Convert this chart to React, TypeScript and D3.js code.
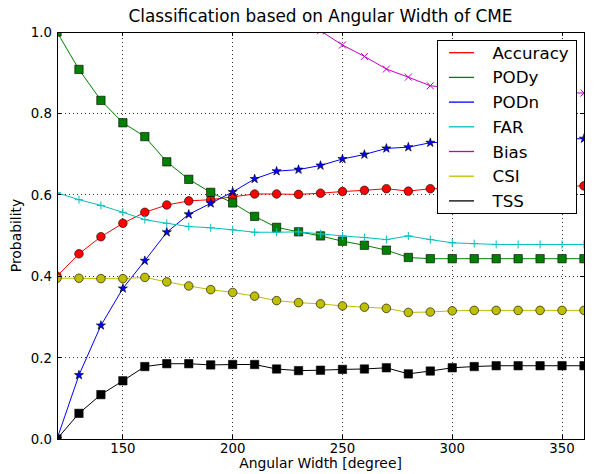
import React from "react";
import * as d3 from "d3";

// angular width thresholds [degree]
const widths = [120, 130, 140, 150, 160, 170, 180, 190, 200, 210, 220, 230, 240, 250, 260, 270, 280, 290, 300, 310, 320, 330, 340, 350, 360];

const accuracy = [0.4, 0.455, 0.497, 0.53, 0.557, 0.575, 0.585, 0.588, 0.595, 0.602, 0.602, 0.601, 0.604, 0.608, 0.611, 0.615, 0.609, 0.615, 0.615, 0.617, 0.618, 0.619, 0.62, 0.621, 0.622];
const pody = [1.0, 0.908, 0.832, 0.777, 0.743, 0.681, 0.638, 0.606, 0.58, 0.547, 0.52, 0.509, 0.499, 0.486, 0.476, 0.464, 0.446, 0.443, 0.443, 0.443, 0.443, 0.443, 0.443, 0.443, 0.443];
const podn = [0.0, 0.157, 0.279, 0.37, 0.438, 0.508, 0.552, 0.579, 0.607, 0.639, 0.658, 0.662, 0.672, 0.688, 0.699, 0.714, 0.717, 0.728, 0.73, 0.732, 0.734, 0.735, 0.736, 0.737, 0.738];
const far = [0.605, 0.588, 0.574, 0.557, 0.539, 0.53, 0.522, 0.519, 0.514, 0.508, 0.508, 0.509, 0.504, 0.499, 0.495, 0.49, 0.499, 0.49, 0.482, 0.48, 0.478, 0.478, 0.478, 0.478, 0.478];
const bias = [2.53, 2.0, 1.7, 1.5, 1.38, 1.3, 1.23, 1.18, 1.14, 1.1, 1.07, 1.04, 1.003, 0.968, 0.94, 0.909, 0.889, 0.868, 0.862, 0.858, 0.855, 0.853, 0.852, 0.851, 0.85];
const csi = [0.395, 0.395, 0.394, 0.394, 0.397, 0.386, 0.376, 0.367, 0.36, 0.351, 0.34, 0.335, 0.332, 0.327, 0.324, 0.321, 0.311, 0.312, 0.315, 0.316, 0.316, 0.316, 0.316, 0.316, 0.316];
const tss = [0.0, 0.063, 0.109, 0.143, 0.178, 0.185, 0.185, 0.182, 0.183, 0.183, 0.172, 0.168, 0.169, 0.171, 0.172, 0.175, 0.16, 0.167, 0.175, 0.178, 0.18, 0.18, 0.18, 0.18, 0.18];

const xTicks = [150, 200, 250, 300, 350];
const yTicks = [0, 0.2, 0.4, 0.6, 0.8, 1.0];

const series = [
  { name: "Accuracy", values: accuracy, color: "#ff0000", marker: "o" },
  { name: "PODy", values: pody, color: "#008000", marker: "s" },
  { name: "PODn", values: podn, color: "#0000ff", marker: "*" },
  { name: "FAR", values: far, color: "#00bfbf", marker: "+" },
  { name: "Bias", values: bias, color: "#bf00bf", marker: "x" },
  { name: "CSI", values: csi, color: "#bfbf00", marker: "o" },
  { name: "TSS", values: tss, color: "#000000", marker: "s" },
];

const W = 595;
const H = 474;
const margin = { top: 32, right: 11, bottom: 35, left: 57 };
const FONT = "DejaVu Sans, sans-serif";

const Marker = ({ type, x, y, color }) => {
  if (type === "+") {
    return (
      <g stroke={color} strokeWidth={1}>
        <line x1={x - 4} x2={x + 4} y1={y} y2={y} />
        <line x1={x} x2={x} y1={y - 4} y2={y + 4} />
      </g>
    );
  }
  if (type === "x") {
    return (
      <g stroke={color} strokeWidth={1}>
        <line x1={x - 3.5} x2={x + 3.5} y1={y - 3.5} y2={y + 3.5} />
        <line x1={x - 3.5} x2={x + 3.5} y1={y + 3.5} y2={y - 3.5} />
      </g>
    );
  }
  const sym = type === "o" ? d3.symbolCircle : type === "s" ? d3.symbolSquare : d3.symbolStar;
  const size = type === "o" ? 58 : type === "s" ? 70 : 26;
  return (
    <path
      d={d3.symbol().type(sym).size(size)()}
      transform={`translate(${x},${y})`}
      fill={color}
      stroke="#000"
      strokeWidth={0.6}
    />
  );
};

const App = () => {
  const x = d3.scaleLinear().domain([120, 360]).range([margin.left, W - margin.right]);
  const y = d3.scaleLinear().domain([0, 1]).range([H - margin.bottom, margin.top]);
  const [x0, x1] = x.range();
  const [y0, y1] = y.range();

  const line = d3
    .line<number>()
    .x((_, i) => x(widths[i]))
    .y((d) => y(d));

  const legendX = 437;
  const legendY = 40;

  return (
    <div style={{ position: "absolute", left: 0, top: 0 }}>
      <svg width={W} height={H} style={{ display: "block", background: "#fff" }} fontFamily={FONT}>
        <defs>
          <clipPath id="plot">
            <rect x={x0} y={y1} width={x1 - x0} height={y0 - y1} />
          </clipPath>
        </defs>

        {/* grid */}
        <g stroke="#000" strokeWidth={0.8} strokeDasharray="1,3" shapeRendering="crispEdges">
          {xTicks.map((t) => (
            <line key={"gx" + t} x1={x(t)} x2={x(t)} y1={y0} y2={y1} />
          ))}
          {yTicks.filter((t) => t > 0 && t < 1).map((t) => (
            <line key={"gy" + t} x1={x0} x2={x1} y1={y(t)} y2={y(t)} />
          ))}
        </g>

        {/* series */}
        <g clipPath="url(#plot)">
          {series.map((s) => (
            <g key={s.name}>
              <path d={line(s.values)} fill="none" stroke={s.color} strokeWidth={1} />
              {s.values.map((v, i) => (
                <Marker key={i} type={s.marker} x={x(widths[i])} y={y(v)} color={s.color} />
              ))}
            </g>
          ))}
        </g>

        {/* frame + ticks */}
        <g stroke="#000" strokeWidth={1} shapeRendering="crispEdges">
          <rect x={x0} y={y1} width={x1 - x0} height={y0 - y1} fill="none" />
          {xTicks.map((t) => (
            <g key={"tx" + t}>
              <line x1={x(t)} x2={x(t)} y1={y0} y2={y0 - 4} />
              <line x1={x(t)} x2={x(t)} y1={y1} y2={y1 + 4} />
            </g>
          ))}
          {yTicks.map((t) => (
            <g key={"ty" + t}>
              <line x1={x0} x2={x0 + 4} y1={y(t)} y2={y(t)} />
              <line x1={x1} x2={x1 - 4} y1={y(t)} y2={y(t)} />
            </g>
          ))}
        </g>

        {/* tick labels */}
        <g fontSize={13.3} fill="#000">
          {xTicks.map((t) => (
            <text key={"lx" + t} x={x(t)} y={y0 + 14} textAnchor="middle">
              {t}
            </text>
          ))}
          {yTicks.map((t) => (
            <text key={"ly" + t} x={x0 - 5} y={y(t) + 5} textAnchor="end">
              {d3.format(".1f")(t)}
            </text>
          ))}
        </g>

        {/* titles */}
        <text x={(x0 + x1) / 2} y={22} textAnchor="middle" fontSize={16.9}>
          Classification based on Angular Width of CME
        </text>
        <text x={(x0 + x1) / 2} y={468} textAnchor="middle" fontSize={13.9}>
          Angular Width [degree]
        </text>
        <text
          transform={`translate(${21},${(y0 + y1) / 2}) rotate(-90)`}
          textAnchor="middle"
          fontSize={13.9}
        >
          Probability
        </text>

        {/* legend */}
        <rect x={legendX} y={legendY} width={139} height={173} fill="#fff" stroke="#000" strokeWidth={1} shapeRendering="crispEdges" />
        {series.map((s, i) => {
          const ly = legendY + 12.7 + i * 24.7;
          return (
            <g key={"lg" + s.name}>
              <line x1={legendX + 12} x2={legendX + 37} y1={ly} y2={ly} stroke={s.color} strokeWidth={1.3} />
              <text x={legendX + 55.5} y={ly + 6} fontSize={16.7}>
                {s.name}
              </text>
            </g>
          );
        })}
      </svg>
    </div>
  );
};

export default App;
